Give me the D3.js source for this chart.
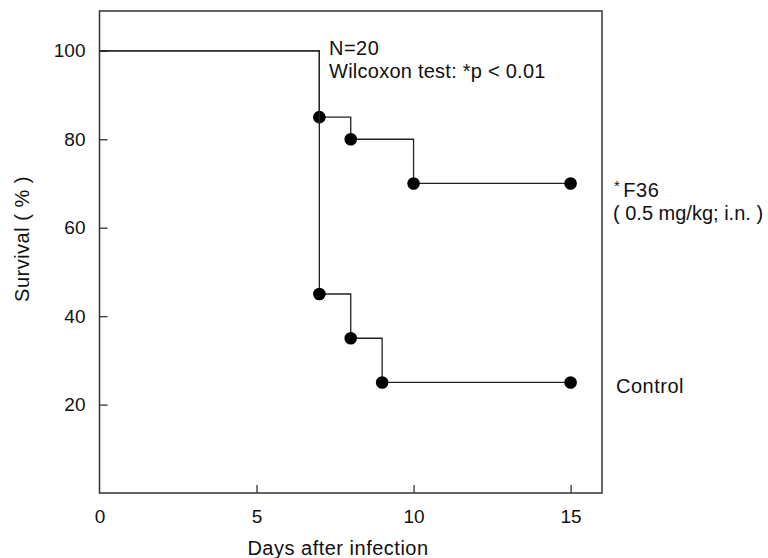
<!DOCTYPE html>
<html>
<head>
<meta charset="utf-8">
<script src="https://cdn.jsdelivr.net/npm/d3@7"></script>
<style>
  html, body { margin: 0; padding: 0; background: #fff; }
  svg text { font-family: "Liberation Sans", Arial, sans-serif; fill: #111; }
</style>
</head>
<body>
<svg id="chart" width="768" height="558"></svg>
<script>
// data
var f36Days = [0, 7, 8, 10, 15];
var f36Surv = [100, 85, 80, 70, 70];
var controlDays = [0, 7, 8, 9, 15];
var controlSurv = [100, 45, 35, 25, 25];
var xTicks = [0, 5, 10, 15];
var yTicks = [20, 40, 60, 80, 100];

var svg = d3.select('#chart');

var x = d3.scaleLinear().domain([0, 16]).range([99.5, 602]);
var y = d3.scaleLinear().domain([0, 109]).range([493, 11]);

var fs = 19, ls = 20;

// frame
svg.append('rect')
	.attr('x', x(0)).attr('y', y(109))
	.attr('width', x(16) - x(0)).attr('height', y(0) - y(109))
	.attr('fill', 'none').attr('stroke', '#333').attr('stroke-width', 1.5);

// axes, ticks point inward
var xAxis = svg.append('g')
	.attr('transform', 'translate(0,' + y(0) + ')')
	.call(d3.axisBottom(x).tickValues(xTicks).tickSize(-8).tickPadding(14));
var yAxis = svg.append('g')
	.attr('transform', 'translate(' + x(0) + ',0)')
	.call(d3.axisLeft(y).tickValues(yTicks).tickSize(-8).tickPadding(14));

[xAxis, yAxis].forEach(function (g) {
	g.select('.domain').remove();
	g.selectAll('.tick line').attr('stroke', '#333').attr('stroke-width', 1.3);
	g.selectAll('.tick text').style('font-size', fs + 'px').attr('fill', '#111');
	g.selectAll('.tick line').filter(function (d) { return d === 0; }).remove();
});
xAxis.selectAll('.tick text').attr('dy', '0.85em');

// curves
var line = d3.line()
	.x(function (d) { return x(d[0]); })
	.y(function (d) { return y(d[1]); })
	.curve(d3.curveStepAfter);

[[f36Days, f36Surv], [controlDays, controlSurv]].forEach(function (s) {
	var pts = s[0].map(function (d, i) { return [d, s[1][i]]; });
	svg.append('path')
		.attr('d', line(pts))
		.attr('fill', 'none')
		.attr('stroke', '#222')
		.attr('stroke-width', 1.3);
	svg.selectAll(null)
		.data(pts.slice(1))
		.enter()
		.append('circle')
			.attr('cx', function (d) { return x(d[0]); })
			.attr('cy', function (d) { return y(d[1]); })
			.attr('r', 6.3)
			.attr('fill', '#000');
});

// labels
function label(px, py, str, sp) {
	return svg.append('text')
		.attr('x', px).attr('y', py)
		.style('font-size', ls + 'px')
		.style('letter-spacing', (sp == null ? 0.5 : sp) + 'px')
		.text(str);
}

label(338, 555, 'Days after infection').attr('text-anchor', 'middle');
label(0, 0, 'Survival ( % )')
	.attr('transform', 'translate(29,239) rotate(-90)')
	.attr('text-anchor', 'middle');

label(329, 55, 'N=20');
label(329, 78, 'Wilcoxon test: *p < 0.01', 0.25);

label(614, 197, '')
	.html('<tspan dy="-6" style="font-size:15px">*</tspan><tspan dx="3" dy="6">F36</tspan>');
label(613, 220, '( 0.5 mg/kg; i.n. )', 0);
label(616, 393, 'Control');
</script>
</body>
</html>
